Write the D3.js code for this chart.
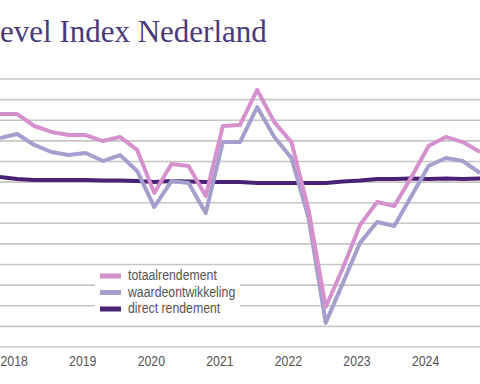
<!DOCTYPE html>
<html>
<head>
<meta charset="utf-8">
<script src="https://cdn.jsdelivr.net/npm/d3@7"></script>
<style>
  body { margin: 0; background: #fff; }
  svg { display: block; }
</style>
</head>
<body>
<svg id="chart"></svg>
<script>
// quarterly returns in %, 2018 K1 .. 2025 K1
const quarters = [];
for (let y = 2018; y <= 2025; y++) {
  for (let q = 1; q <= 4; q++) {
    if (y === 2025 && q > 1) break;
    quarters.push(y + ' K' + q);
  }
}

const totaalrendement = [4.30, 4.30, 3.72, 3.43, 3.28, 3.28, 2.99, 3.19, 2.56, 0.47, 1.88, 1.78, 0.32,
  3.72, 3.77, 5.47, 3.91, 2.94, -0.35, -5.06, -3.17, -1.08, 0.03, -0.16, 1.25, 2.75, 3.19, 2.94, 2.46];
const waardeontwikkeling = [3.14, 3.33, 2.80, 2.46, 2.31, 2.41, 2.02, 2.31, 1.54, -0.21, 1.05, 0.96, -0.50,
  2.94, 2.94, 4.64, 3.19, 2.17, -0.74, -5.83, -3.90, -1.95, -0.94, -1.13, 0.32, 1.78, 2.17, 2.02, 1.44];
const directRendement = [1.25, 1.15, 1.10, 1.10, 1.10, 1.10, 1.08, 1.08, 1.05, 1.00, 1.05, 1.03, 1.00,
  1.00, 1.00, 0.96, 0.96, 0.96, 0.96, 0.96, 1.03, 1.08, 1.15, 1.15, 1.17, 1.15, 1.17, 1.15, 1.17];

const yearLabels = ['2018', '2019', '2020', '2021', '2022', '2023', '2024'];
const yTicks = d3.range(-7, 7);

const series = [
  { name: 'direct rendement', values: directRendement, color: '#4a2275' },
  { name: 'waardeontwikkeling', values: waardeontwikkeling, color: '#a59fcd' },
  { name: 'totaalrendement', values: totaalrendement, color: '#d491ce' }
];

const width = 480;
const height = 384;
const narrow = 'scale(0.82,1)'; // condensed look of the original sans font

const svg = d3.select('#chart').attr('width', width).attr('height', height);

const x = d3.scaleLinear().domain([0, quarters.length - 1]).range([0, 480]);
const y = d3.scaleLinear().domain([-7, 6]).range([347, 79]);

// title, the picture is cropped so only this part shows
svg.append('text')
  .attr('x', 0)
  .attr('y', 42)
  .attr('fill', '#4b3a7a')
  .style('font-family', '"Liberation Serif", "DejaVu Serif", serif')
  .style('font-size', '31px')
  .text('evel Index Nederland');

// gridlines
svg.append('g')
  .selectAll('line')
  .data(yTicks)
  .enter()
  .append('line')
  .attr('x1', 0)
  .attr('x2', width)
  .attr('y1', (d) => y(d))
  .attr('y2', (d) => y(d))
  .attr('stroke', '#c6c6c6')
  .attr('stroke-width', 1.6);

// x axis, year labels start at the first quarter
const xAxis = d3.axisBottom(x)
  .tickValues(yearLabels.map((d, i) => i * 4))
  .tickFormat((d) => yearLabels[d / 4])
  .tickSize(0)
  .tickPadding(0);

const gx = svg.append('g')
  .attr('transform', `translate(0, ${y(-7)})`)
  .call(xAxis);
gx.select('.domain').remove();
gx.selectAll('text')
  .attr('text-anchor', 'start')
  .attr('dy', null)
  .attr('y', 19)
  .attr('transform', narrow)
  .attr('fill', '#555')
  .style('font-family', '"Liberation Sans", sans-serif')
  .style('font-size', '15px');

// lines
const line = d3.line()
  .x((d, i) => x(i))
  .y((d) => y(d));

svg.append('g')
  .selectAll('path')
  .data(series)
  .enter()
  .append('path')
  .attr('d', (s) => line(s.values))
  .attr('fill', 'none')
  .attr('stroke', (s) => s.color)
  .attr('stroke-width', 4)
  .attr('stroke-linejoin', 'round');

// legend
const legend = svg.append('g');
legend.append('rect')
  .attr('x', 95)
  .attr('y', 268)
  .attr('width', 145)
  .attr('height', 56)
  .attr('fill', '#fff');

const legendItems = series.slice().reverse();
const li = legend.selectAll('g.item')
  .data(legendItems)
  .enter()
  .append('g')
  .attr('class', 'item')
  .attr('transform', (d, i) => `translate(100, ${276 + i * 16.5})`);

li.append('rect')
  .attr('x', 0)
  .attr('y', -2.5)
  .attr('width', 21)
  .attr('height', 5)
  .attr('fill', (d) => d.color);

li.append('text')
  .attr('transform', 'translate(28,4) ' + narrow)
  .attr('fill', '#555')
  .style('font-family', '"Liberation Sans", sans-serif')
  .style('font-size', '15px')
  .text((d) => d.name);
</script>
</body>
</html>
